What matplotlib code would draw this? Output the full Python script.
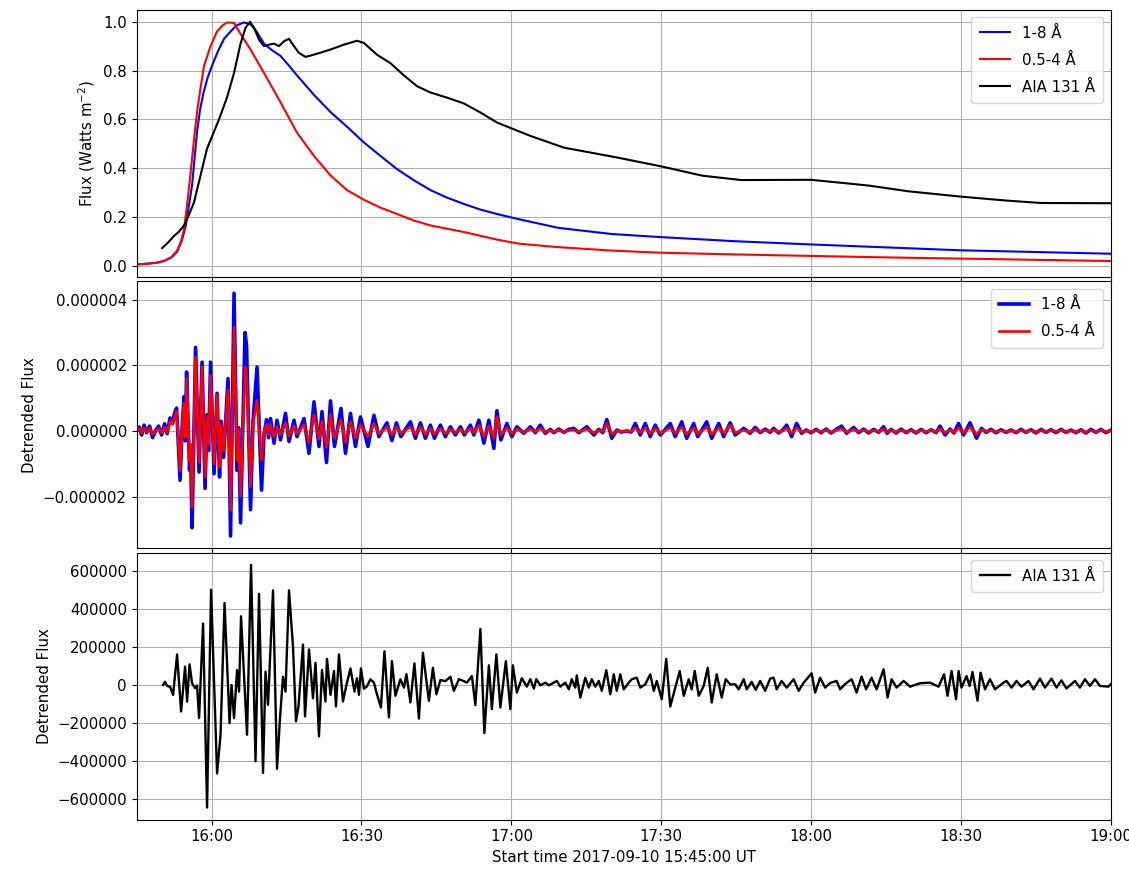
import numpy as np
import matplotlib
matplotlib.use("Agg")
import matplotlib.pyplot as plt
import matplotlib.dates as mdates

plt.rcParams['font.size'] = 10.8
plt.rcParams['legend.labelspacing'] = 0.8
plt.rcParams['legend.borderpad'] = 0.57

START = np.datetime64('2017-09-10T15:45:00')

# ---------------- normalised light curves (minutes after start) ----------------
long_t = [0, 2, 4, 5.5, 7, 8.1, 9, 9.8, 10.5, 11.1, 11.6, 12.1, 12.7, 13.4, 14.2,
          15.1, 16.3, 17.5, 18.8, 20, 21.5, 22.8, 24, 25.5, 27, 28.8, 30.5, 32.1,
          35.5, 38.8, 42.1, 45.5, 48.8, 52.1, 55.5, 58.8, 62, 65.5, 68.8, 72.1,
          76.6, 84.4, 95, 105, 120, 135, 150, 165, 180, 195]
long_norm = [0.005, 0.008, 0.012, 0.019, 0.035, 0.057, 0.1, 0.16, 0.25, 0.33, 0.44,
             0.55, 0.64, 0.71, 0.77, 0.82, 0.88, 0.93, 0.96, 0.985, 0.997, 0.99,
             0.96, 0.91, 0.885, 0.86, 0.82, 0.78, 0.70, 0.63, 0.57, 0.505, 0.45,
             0.396, 0.35, 0.31, 0.28, 0.253, 0.23, 0.212, 0.19, 0.155, 0.13, 0.117,
             0.1, 0.087, 0.075, 0.063, 0.056, 0.049]

short_t = [0, 2, 4, 5.5, 7, 8.1, 8.9, 9.5, 10.1, 10.8, 11.5, 12.1, 12.8, 13.5, 14.8,
           16.1, 17.2, 18.1, 19.5, 20.8, 22.8, 25.5, 28.8, 32.1, 35.5, 38.8, 42.1,
           45.5, 48.8, 52.1, 55.5, 58.8, 65.5, 72.1, 76.6, 84.4, 95, 105, 120, 135,
           150, 165, 180, 195]
short_norm = [0.005, 0.008, 0.012, 0.02, 0.035, 0.062, 0.1, 0.15, 0.25, 0.38, 0.52,
              0.63, 0.73, 0.82, 0.90, 0.96, 0.985, 0.997, 0.995, 0.95, 0.886, 0.79,
              0.67, 0.545, 0.45, 0.37, 0.31, 0.27, 0.238, 0.212, 0.185, 0.165, 0.138,
              0.107, 0.09, 0.076, 0.062, 0.053, 0.046, 0.04, 0.034, 0.029, 0.024,
              0.019]

aia_t = [5.1, 6.3, 7.5, 8.5, 9.5, 10.5, 11.5, 12.2, 12.8, 13.5, 14.1, 15.1, 16.5,
         18.1, 19.5, 20.8, 21.8, 22.7, 23.5, 24.5, 25.5, 26.5, 27.5, 28.5, 29.5,
         30.5, 31.5, 32.5, 33.8, 35.5, 38.8, 41.5, 44.1, 45.5, 48.1, 50.8, 53.5,
         56.1, 58.8, 62.1, 65.5, 68.8, 72.1, 75.5, 78.8, 85.5, 96, 105, 113.2, 121,
         135, 146.7, 154.4, 165, 174, 181, 195]
aia_norm = [0.072, 0.095, 0.122, 0.14, 0.165, 0.21, 0.26, 0.32, 0.37, 0.43, 0.48,
            0.53, 0.60, 0.69, 0.79, 0.91, 0.975, 1.0, 0.975, 0.926, 0.90, 0.906,
            0.91, 0.90, 0.92, 0.93, 0.90, 0.872, 0.856, 0.865, 0.886, 0.906, 0.922,
            0.913, 0.865, 0.83, 0.78, 0.736, 0.71, 0.689, 0.665, 0.628, 0.587,
            0.559, 0.532, 0.484, 0.444, 0.407, 0.369, 0.351, 0.352, 0.328, 0.305,
            0.283, 0.267, 0.257, 0.256]

# ---------------- detrended GOES flux (units of 1e-6 W m^-2) ----------------
goes_det_t = [
    0.0, 0.5, 1.0, 1.5, 2.0, 2.6, 3.2, 3.8, 4.4, 5.0,
    5.6, 6.1, 6.7, 7.2, 7.6, 8.0, 8.7, 9.1, 9.5, 9.75,
    10.0, 10.6, 10.8, 11.1, 11.8, 12.5, 13.1, 13.7, 14.1, 14.4,
    14.8, 15.5, 16.1, 16.6, 16.9, 17.4, 18.3, 18.8, 19.5, 20.1,
    20.4, 20.8, 21.7, 22.0, 22.8, 23.3, 24.1, 25.0, 25.5, 26.0,
    26.4, 26.8, 27.5, 28.1, 28.8, 29.8, 30.5, 31.5, 32.1, 33.5,
    34.5, 35.5, 36.5, 37.1, 38.0, 38.8, 39.6, 40.9, 41.8, 42.8,
    43.8, 44.8, 46.3, 47.5, 48.5, 50.1, 51.1, 52.0, 52.9, 53.8,
    54.8, 55.8, 56.8, 57.8, 58.8, 59.6, 60.8, 61.8, 62.8, 63.8,
    64.8, 65.6, 66.8, 67.5, 68.5, 69.5, 70.5, 71.5, 72.1, 72.9,
    74.1, 75.1, 76.1, 77.5, 78.8, 79.8, 80.8, 81.8, 82.8, 83.5,
    84.5, 85.5, 86.5, 87.5, 88.5, 90.1, 91.5, 92.5, 93.3, 94.1,
    95.1, 96.1, 97.0, 98.1, 99.0, 99.8, 100.8, 101.8, 102.8, 103.8,
    104.8, 105.8, 106.8, 107.8, 109.1, 110.1, 111.5, 112.3, 113.2, 114.1,
    115.1, 116.5, 117.5, 118.8, 119.8, 121.5, 122.8, 123.8, 124.8, 125.8,
    126.8, 127.5, 128.5, 129.3, 130.1, 131.1, 132.1, 133.1, 134.0, 135.0,
    136.0, 137.0, 138.0, 139.0, 140.0, 141.1, 142.1, 143.5, 144.5, 145.5,
    146.5, 147.5, 148.5, 149.5, 150.2, 151.0, 152.0, 153.0, 154.0, 155.0,
    156.0, 157.0, 158.0, 159.0, 160.0, 160.8, 161.8, 162.8, 163.6, 164.5,
    165.5, 166.8, 168.1, 169.1, 170.0, 171.0, 172.0, 173.0, 174.0, 175.0,
    176.0, 177.0, 178.0, 179.0, 180.0, 181.0, 182.0, 183.0, 184.0, 185.0,
    186.0, 187.0, 188.0, 189.0, 190.0, 191.0, 192.0, 193.0, 194.0, 195.0,
]
goes_long_det = [
    0.0, 0.12, -0.12, 0.18, -0.05, 0.15, -0.2, 0.02, 0.15, -0.12,
    0.22, -0.08, 0.4, 0.25, 0.55, 0.7, -1.5, 0.1, 1.05, -0.3,
    1.8, -1.2, -0.6, -2.95, 2.55, -1.25, 2.1, -1.75, 0.5, -0.6,
    2.1, -1.3, 1.15, -1.4, 0.3, -0.8, 1.6, -3.2, 4.2, -1.2,
    0.1, -2.8, 3.0, 2.6, -2.4, 0.3, 1.95, -1.8, -0.1, 0.35,
    -0.2, 0.38, -0.37, 0.33, -0.27, 0.54, -0.32, 0.33, -0.17, 0.38,
    -0.68, 0.89, -0.47, 0.59, -0.96, 0.92, -0.47, 0.69, -0.68, 0.54,
    -0.47, 0.43, -0.47, 0.48, -0.17, 0.25, -0.29, 0.25, -0.17, 0.05,
    0.28, -0.22, 0.25, -0.22, 0.18, -0.22, 0.18, -0.17, 0.13, -0.12,
    0.13, -0.12, 0.18, -0.12, 0.33, -0.37, 0.33, -0.53, 0.62, -0.27,
    0.23, -0.17, 0.13, -0.07, 0.13, -0.05, 0.18, -0.07, 0.05, -0.05,
    0.06, -0.04, 0.05, 0.08, -0.05, 0.13, -0.12, 0.05, -0.05, 0.35,
    -0.22, 0.03, -0.03, 0.0, -0.03, 0.23, -0.12, 0.23, -0.17, 0.18,
    -0.12, 0.05, 0.23, -0.17, 0.28, -0.22, 0.23, -0.17, 0.05, 0.28,
    -0.22, 0.23, -0.17, 0.25, -0.12, 0.08, -0.07, 0.11, -0.05, 0.06,
    -0.04, 0.08, -0.06, 0.03, 0.18, -0.17, 0.23, -0.07, 0.03, -0.05,
    0.05, -0.05, 0.06, -0.06, 0.05, 0.15, -0.07, 0.11, -0.05, 0.06,
    -0.06, 0.05, -0.04, 0.13, -0.07, 0.05, -0.06, 0.06, -0.05, 0.04,
    -0.06, 0.05, -0.05, 0.04, -0.05, 0.15, -0.12, 0.06, -0.06, 0.23,
    -0.12, 0.25, -0.22, 0.08, -0.04, 0.05, -0.05, 0.04, -0.04, 0.03,
    -0.05, 0.05, -0.04, 0.04, -0.06, 0.05, -0.04, 0.04, -0.05, 0.05,
    -0.04, 0.03, -0.05, 0.04, -0.06, 0.05, -0.04, 0.05, -0.05, 0.03,
]
goes_short_det = [
    0.0, 0.08, -0.06, 0.1, -0.03, 0.08, -0.1, 0.0, 0.08, -0.06,
    0.12, -0.04, 0.3, 0.2, 0.45, 0.6, -1.2, 0.05, 0.85, -0.2,
    1.6, -0.9, -0.4, -2.33, 2.25, -0.95, 1.95, -1.4, 0.4, -0.4,
    1.7, -1.0, 1.1, -1.1, 0.2, -0.6, 1.25, -2.4, 3.16, -0.9,
    0.05, -2.0, 1.95, 1.7, -1.7, 0.2, 0.94, -0.88, -0.05, 0.2,
    -0.1, 0.2, -0.18, 0.15, -0.12, 0.25, -0.15, 0.15, -0.08, 0.2,
    -0.35, 0.5, -0.25, 0.3, -0.5, 0.5, -0.22, 0.35, -0.35, 0.28,
    -0.22, 0.2, -0.17, 0.23, -0.08, 0.12, -0.12, 0.12, -0.08, 0.03,
    0.12, -0.1, 0.12, -0.1, 0.08, -0.1, 0.08, -0.08, 0.06, -0.05,
    0.06, -0.05, 0.08, -0.05, 0.18, -0.17, 0.15, -0.22, 0.43, -0.12,
    0.1, -0.08, 0.06, -0.03, 0.06, -0.02, 0.08, -0.03, 0.02, -0.02,
    0.03, -0.02, 0.02, 0.04, -0.02, 0.06, -0.05, 0.02, -0.02, 0.23,
    -0.1, 0.01, -0.01, 0.0, -0.01, 0.1, -0.05, 0.1, -0.07, 0.08,
    -0.05, 0.02, 0.1, -0.07, 0.12, -0.1, 0.1, -0.07, 0.02, 0.12,
    -0.1, 0.1, -0.07, 0.18, -0.05, 0.03, -0.03, 0.05, -0.02, 0.03,
    -0.02, 0.04, -0.03, 0.01, 0.08, -0.07, 0.1, -0.03, 0.01, -0.02,
    0.02, -0.02, 0.03, -0.03, 0.02, 0.07, -0.03, 0.05, -0.02, 0.03,
    -0.03, 0.02, -0.02, 0.06, -0.03, 0.02, -0.03, 0.03, -0.02, 0.02,
    -0.03, 0.02, -0.02, 0.02, -0.02, 0.07, -0.05, 0.03, -0.03, 0.1,
    -0.05, 0.12, -0.1, 0.04, -0.02, 0.02, -0.02, 0.02, -0.02, 0.01,
    -0.02, 0.02, -0.02, 0.02, -0.03, 0.02, -0.02, 0.02, -0.02, 0.02,
    -0.02, 0.01, -0.02, 0.02, -0.03, 0.02, -0.02, 0.02, -0.02, 0.01,
]

# ---------------- detrended AIA 131 counts (thousands) ----------------
aia_det_t = [
    5.3, 5.7, 6.1, 6.7, 7.3, 8.1, 8.9, 9.7, 10.1, 10.6,
    11.1, 11.7, 12.1, 12.5, 13.3, 14.1, 14.9, 16.1, 16.8, 17.6,
    18.6, 19.0, 19.5, 20.1, 20.5, 20.9, 22.1, 22.9, 23.8, 24.5,
    25.3, 25.8, 26.3, 27.3, 28.1, 28.7, 29.3, 29.8, 30.5, 31.3,
    31.9, 32.4, 33.3, 33.7, 34.5, 35.3, 35.8, 36.5, 37.1, 37.8,
    38.1, 38.8, 39.5, 39.9, 40.5, 41.3, 42.0, 42.8, 43.6, 44.1,
    44.5, 44.9, 45.5, 46.1, 46.8, 47.5, 48.0, 48.9, 49.6, 50.5,
    51.1, 51.8, 52.8, 53.5, 54.0, 54.8, 55.6, 56.5, 57.3, 58.5,
    59.3, 60.0, 60.8, 61.8, 62.8, 63.5, 64.5, 65.5, 66.1, 67.1,
    67.8, 68.8, 69.6, 70.5, 71.1, 72.0, 72.8, 73.9, 74.8, 75.3,
    76.1, 77.1, 78.1, 78.8, 79.5, 80.0, 80.8, 81.8, 82.5, 83.5,
    84.1, 84.8, 85.8, 86.5, 87.1, 87.8, 88.1, 88.8, 89.8, 90.5,
    91.1, 91.8, 92.5, 93.1, 94.0, 94.8, 95.5, 96.1, 96.8, 97.5,
    98.5, 99.1, 100.1, 100.8, 101.8, 102.8, 103.5, 104.1, 105.1, 106.0,
    106.8, 107.8, 108.7, 109.5, 110.5, 111.1, 111.7, 112.5, 113.5, 114.3,
    115.1, 116.1, 117.1, 117.9, 118.8, 119.8, 120.5, 121.5, 122.1, 123.1,
    123.9, 124.8, 125.8, 126.8, 127.5, 128.1, 129.1, 130.1, 131.5, 132.5,
    133.5, 134.1, 135.1, 135.8, 136.8, 137.8, 138.8, 140.1, 140.8, 141.8,
    143.1, 144.1, 145.1, 146.0, 147.1, 148.1, 149.5, 150.3, 151.1, 152.1,
    153.5, 154.8, 156.8, 158.8, 160.5, 161.6, 162.3, 163.1, 164.0, 164.5,
    165.1, 166.1, 166.7, 167.3, 168.3, 168.9, 169.8, 170.8, 171.8, 173.5, 174.1,
    175.1, 176.1, 177.1, 178.5, 179.5, 180.8, 181.8, 183.1, 184.1, 185.1,
    186.1, 187.8, 188.8, 189.8, 190.8, 191.8, 192.8, 194.5, 195.0,
]
aia_det_k = [
    0, 17, -5, -10, -52, 160, -139, 96, -87, 108,
    9, -17, -3, -174, 322, -643, 499, -464, -261, 430,
    -200, 0, -174, 78, -35, 360, -261, 630, -400, 478,
    -461, 70, -104, 496, -440, -174, 43, -35, 496, 200,
    -191, -113, 212, -165, 186, -70, 116, -270, 78, -87,
    137, -52, 73, -113, 160, -87, 0, 87, -35, 35,
    -52, 87, -20, -8, 30, 12, -40, -118, 177, -170,
    125, -57, 30, -14, 56, -92, 113, -176, 169, -83,
    90, -49, 26, 20, 43, -31, 30, 20, 12, 47,
    -106, 294, -252, 103, -127, 160, -118, 125, -127, 103,
    -40, 35, -9, 30, -19, 30, -2, 12, -2, 12,
    21, -9, 12, -23, 30, -14, 50, -66, 38, -14,
    30, -9, 21, -31, 77, -49, 56, -31, 56, -23,
    12, 30, 38, -14, 3, 56, -31, 21, -75, 137,
    -113, -14, 73, -57, 30, -23, 73, -57, -5, 90,
    -92, 56, -66, 30, 3, 3, -23, 30, -23, 16,
    -26, 21, -31, 33, 38, -23, 21, -14, 30, -31,
    12, 30, 61, -40, 38, -14, 10, 21, -23, 5,
    30, -40, 44, -23, 38, -23, 82, -66, 30, -14,
    21, -9, 9, 12, -9, 56, -57, 73, -75, 73,
    -14, 47, -5, 68, -83, 64, -23, 30, -23, 12, 21,
    -14, 21, -9, 21, -23, 33, -14, 33, -14, 24,
    -19, 21, -14, 30, -5, 30, -5, -9, 5,
]


def to_time(minutes):
    sec = np.round(np.asarray(minutes, dtype=float) * 60).astype('int64')
    return START + sec.astype('timedelta64[s]')


fig, axes = plt.subplots(3, 1, figsize=(11.29, 8.72), dpi=100, sharex=True)
fig.subplots_adjust(left=0.121, right=0.984, bottom=0.06, top=0.989, hspace=0.017)
ax1, ax2, ax3 = axes

# Panel 1: normalised light curves
ax1.plot(to_time(long_t), long_norm, color='b', lw=1.5, label='1-8 Å')
ax1.plot(to_time(short_t), short_norm, color='r', lw=1.5, label='0.5-4 Å')
ax1.plot(to_time(aia_t), aia_norm, color='k', lw=1.5, label='AIA 131 Å')
ax1.set_ylabel('Flux (Watts m$^{-2}$)')
ax1.legend(loc='upper right')
ax1.grid(True)

# Panel 2: detrended GOES channels
ax2.plot(to_time(goes_det_t), np.asarray(goes_long_det) * 1e-6, color='b', lw=2.6,
         label='1-8 Å')
ax2.plot(to_time(goes_det_t), np.asarray(goes_short_det) * 1e-6, color='r', lw=1.9,
         label='0.5-4 Å')
ax2.set_ylabel('Detrended Flux')
ax2.ticklabel_format(axis='y', style='plain', useOffset=False)
ax2.legend(loc='upper right')
ax2.grid(True)

# Panel 3: detrended AIA 131
ax3.plot(to_time(aia_det_t), np.asarray(aia_det_k) * 1e3, color='k', lw=1.7,
         label='AIA 131 Å')
ax3.set_ylabel('Detrended Flux')
ax3.ticklabel_format(axis='y', style='plain', useOffset=False)
ax3.legend(loc='upper right')
ax3.grid(True)

ax3.set_xlim(to_time(0), to_time(195))
ax3.xaxis.set_major_locator(mdates.MinuteLocator(byminute=[0, 30]))
ax3.xaxis.set_major_formatter(mdates.DateFormatter('%H:%M'))
ax3.set_xlabel('Start time 2017-09-10 15:45:00 UT')

fig.savefig('out.png', dpi=100)
